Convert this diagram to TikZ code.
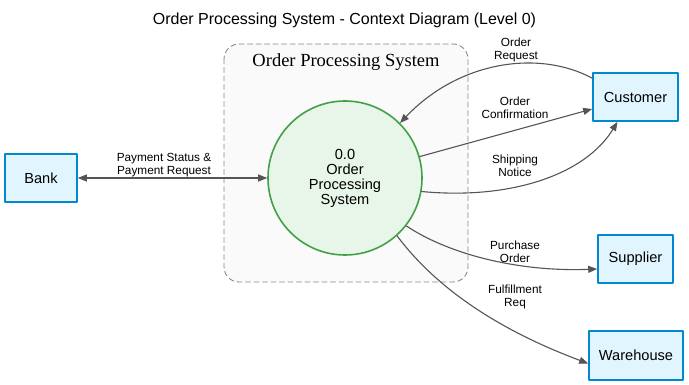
\documentclass[tikz,border=0pt]{standalone}
\usepackage{fontspec}
\setmainfont{Liberation Sans}
\newfontfamily\clusterfont{Liberation Serif}
\usetikzlibrary{arrows.meta}
\definecolor{edgegray}{HTML}{555555}
\definecolor{boxfill}{HTML}{E1F5FE}
\definecolor{boxdraw}{HTML}{0288D1}
\definecolor{procfill}{HTML}{E8F5E9}
\definecolor{procdraw}{HTML}{43A047}
\definecolor{clusterfill}{HTML}{FAFAFA}
\definecolor{clusterdraw}{HTML}{888888}
\begin{document}
\begin{tikzpicture}[x=1pt,y=1pt,line cap=round,line join=round,>={Triangle[length=9pt,width=7pt]},
  entity/.style={draw=boxdraw,fill=boxfill,line width=1.6pt,inner sep=0pt,
    font=\fontsize{14.6}{16}\selectfont},
  flow/.style={draw=edgegray,line width=1.1pt,->},
  flowlabel/.style={align=center,inner sep=0pt,font=\fontsize{11.8}{13}\selectfont}]
  \useasboundingbox (0,0) rectangle (689,-385);
  % title
  \node[font=\fontsize{16}{18}\selectfont] (title) at (344.5,-20) {Order Processing System - Context Diagram (Level 0)};
  % system boundary
  \draw[draw=clusterdraw,fill=clusterfill,line width=0.9pt,dash pattern=on 5pt off 3.5pt,rounded corners=15pt]
    (224,-44) rectangle (468,-282);
  \node[font=\clusterfont\fontsize{18.5}{20}\selectfont] (boundary) at (346,-62) {Order Processing System};
  % process
  \node[circle,draw=procdraw,fill=procfill,line width=1.6pt,minimum size=154pt,inner sep=0pt,
    align=center,font=\fontsize{14.6}{15}\selectfont] (proc) at (345,-178) {0.0\\Order\\Processing\\System};
  % external entities
  \node[entity,minimum width=85pt,minimum height=48pt] (cust) at (635.5,-97) {Customer};
  \node[entity,minimum width=75pt,minimum height=48pt] (supp) at (635.5,-259) {Supplier};
  \node[entity,minimum width=94pt,minimum height=49pt] (ware) at (636,-355.5) {Warehouse};
  \node[entity,minimum width=72pt,minimum height=48pt] (bank) at (41,-178) {Bank};
  % flows
  \draw[flow] ([yshift=-6pt]cust.north west) .. controls (540,-50) and (460,-60) .. (proc.45);
  \draw[flow] (proc.16) -- ([yshift=-12pt]cust.west);
  \draw[flow] (proc.-10) .. controls (510,-200) and (585,-175) .. ([xshift=-18pt]cust.south);
  \draw[flow,<->] (bank.east) -- (proc.west);
  \draw[flow] (proc.-38) .. controls (450,-255) and (520,-272) .. ([yshift=-10pt]supp.west);
  \draw[flow] (proc.-48) .. controls (445,-300) and (520,-338) .. ([yshift=-8pt]ware.west);
  % flow labels
  \node[flowlabel] (lreq) at (516,-50) {Order\\Request};
  \node[flowlabel] (lconf) at (515,-108) {Order\\Confirmation};
  \node[flowlabel] (lship) at (515,-166) {Shipping\\Notice};
  \node[flowlabel] (lpay) at (164,-165.5) {Payment Status \&\\Payment Request};
  \node[flowlabel] (lpo) at (515,-252) {Purchase\\Order};
  \node[flowlabel] (lful) at (515,-297) {Fulfillment\\Req};
\end{tikzpicture}
\end{document}
